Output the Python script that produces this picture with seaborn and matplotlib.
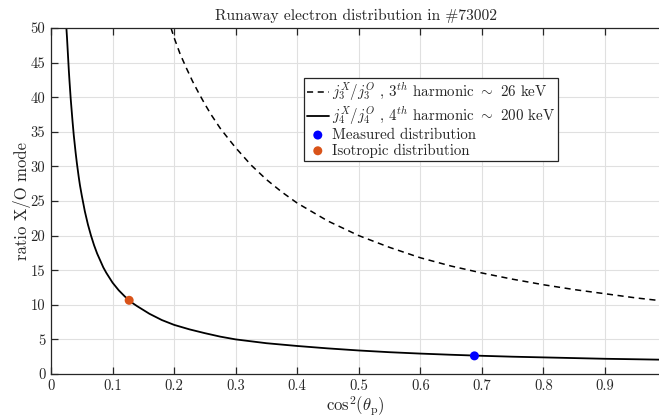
import matplotlib
matplotlib.use("Agg")
import matplotlib.pyplot as plt
import seaborn as sns
import pandas as pd

# ---- data ----
x_h3 = [0.195, 0.20, 0.21, 0.22, 0.23, 0.24, 0.25, 0.26, 0.275, 0.29, 0.30, 0.325,
        0.35, 0.375, 0.40, 0.45, 0.50, 0.55, 0.60, 0.65, 0.70, 0.75, 0.80,
        0.85, 0.90, 0.95, 0.99]
y_h3 = [50.0, 48.6, 46.2, 44.2, 42.3, 40.6, 39.0, 37.5, 35.5, 33.8, 32.7, 30.2,
        28.1, 26.3, 24.7, 22.1, 20.0, 18.3, 16.8, 15.6, 14.6, 13.7, 12.9,
        12.2, 11.6, 11.0, 10.6]

x_h4 = [0.025, 0.026, 0.027, 0.028, 0.029, 0.030, 0.032, 0.035, 0.037, 0.040,
        0.042, 0.045, 0.047, 0.050, 0.055, 0.060, 0.065, 0.070, 0.075, 0.080,
        0.085, 0.090, 0.095, 0.10, 0.11, 0.12, 0.13, 0.14, 0.16, 0.18, 0.20,
        0.225, 0.25, 0.275, 0.30, 0.35, 0.40, 0.45, 0.50, 0.55, 0.60, 0.65,
        0.70, 0.75, 0.80, 0.85, 0.90, 0.95, 0.99]
y_h4 = [50.0, 48.6, 47.0, 45.4, 43.8, 42.4, 39.8, 36.5, 34.5, 32.0,
        30.5, 28.5, 27.3, 25.8, 23.5, 21.6, 20.0, 18.6, 17.4, 16.4,
        15.4, 14.6, 13.9, 13.2, 12.1, 11.2, 10.4, 9.8, 8.7, 7.8, 7.1,
        6.45, 5.9, 5.4, 5.0, 4.45, 4.05, 3.7, 3.4, 3.15, 2.95, 2.78,
        2.63, 2.5, 2.4, 2.3, 2.2, 2.13, 2.07]

measured_x = [0.688]
measured_y = [2.62]
isotropic_x = [0.127]
isotropic_y = [10.65]

labels = [r"$j_3^X/j_3^O$ , $3^{th}$ harmonic $\sim$ 26 keV",
          r"$j_4^X/j_4^O$ , $4^{th}$ harmonic $\sim$ 200 keV",
          "Measured distribution",
          "Isotropic distribution"]
title = "Runaway electron distribution in #73002"
xlabel = r"$\mathrm{cos}^2(\theta_\mathrm{p})$"
ylabel = "ratio X/O mode"
xticks = [0, 0.1, 0.2, 0.3, 0.4, 0.5, 0.6, 0.7, 0.8, 0.9]
xticklabels = ["0", "0.1", "0.2", "0.3", "0.4", "0.5", "0.6", "0.7", "0.8", "0.9"]
yticks = [0, 5, 10, 15, 20, 25, 30, 35, 40, 45, 50]

# ---- style ----
sns.set_style("whitegrid")
plt.rcParams["font.family"] = ["serif"]
plt.rcParams["font.serif"] = ["cmr10", "DejaVu Serif"]
plt.rcParams["mathtext.fontset"] = "cm"
plt.rcParams["axes.unicode_minus"] = False
plt.rcParams["axes.formatter.use_mathtext"] = True

fig = plt.figure(figsize=(6.59, 4.17), dpi=100)
ax = fig.add_axes([51 / 659, 1 - 374 / 417, 1 - 51 / 659 + 0.002, (374 - 28) / 417])

df3 = pd.DataFrame({"x": x_h3, "y": y_h3})
df4 = pd.DataFrame({"x": x_h4, "y": y_h4})
sns.lineplot(data=df3, x="x", y="y", ax=ax, color="black", lw=1.1,
             linestyle=(0, (4, 3)), label=labels[0], sort=False)
sns.lineplot(data=df4, x="x", y="y", ax=ax, color="black", lw=1.3,
             label=labels[1], sort=False)
sns.scatterplot(x=measured_x, y=measured_y, ax=ax, color=(0, 0, 1), s=42,
                edgecolor="none", label=labels[2], zorder=5)
sns.scatterplot(x=isotropic_x, y=isotropic_y, ax=ax, color="#D95319", s=42,
                edgecolor="none", label=labels[3], zorder=5)

ax.set_xlim(0, 0.99)
ax.set_ylim(0, 50)
ax.set_xticks(xticks)
ax.set_xticklabels(xticklabels)
ax.set_yticks(yticks)
ax.set_yticklabels([str(v) for v in yticks])
ax.grid(True, color="#e0e0e0", lw=0.8)
for side in ["left", "bottom", "top", "right"]:
    ax.spines[side].set_color("#262626")
    ax.spines[side].set_linewidth(0.9)
ax.spines["right"].set_visible(False)
ax.tick_params(axis="both", which="both", direction="in", length=5, width=0.9,
               color="#262626", labelsize=10.5, labelcolor="#262626",
               top=True, bottom=True, left=True, right=False, pad=4)

ax.set_title(title, fontsize=11.2, color="#262626", pad=6)
ax.set_xlabel(xlabel, fontsize=12, color="#262626", va="center")
ax.xaxis.set_label_coords(0.5, -0.093)
ax.set_ylabel(ylabel, fontsize=12, color="#262626", va="center")
ax.yaxis.set_label_coords(-0.047, 0.5)

leg = ax.legend(loc="upper left", bbox_to_anchor=((303 - 51) / 608, (374 - 78) / 346),
                borderaxespad=0, fontsize=10.8, frameon=True, fancybox=False,
                framealpha=1, edgecolor="#262626", handlelength=1.5,
                handletextpad=0.2, labelspacing=0.1, borderpad=0.2)
leg.get_frame().set_linewidth(0.9)

fig.savefig("out.png", dpi=100)
